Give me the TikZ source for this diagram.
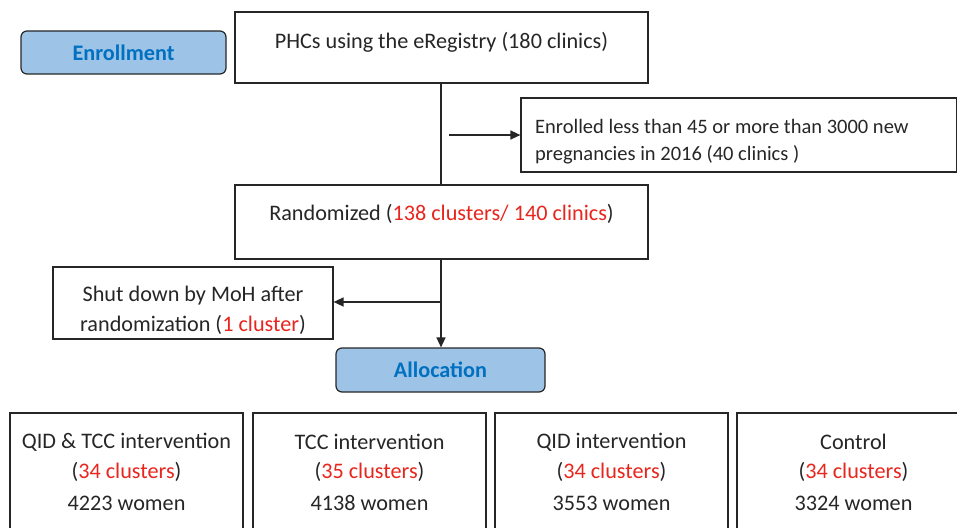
\documentclass[tikz,border=0pt]{standalone}
\usepackage{fontspec}
\setmainfont{Carlito}
\usetikzlibrary{arrows.meta}
\definecolor{stageblue}{HTML}{9DC3E6}
\definecolor{stagetext}{HTML}{0070C0}
\definecolor{linegray}{HTML}{262626}
\definecolor{hired}{HTML}{E8261E}
\newcommand{\hl}[1]{\textcolor{hired}{#1}}
\tikzset{
  box/.style={draw=linegray, line width=1.2pt, fill=white, inner sep=0pt},
  stage/.style={draw=linegray, line width=1.2pt, fill=stageblue, rounded corners=6pt,
    inner sep=0pt, text=stagetext, font=\fontsize{22.2}{26}\selectfont\bfseries},
  txt/.style={font=\fontsize{22.2}{26}\selectfont, text=linegray, inner sep=0pt},
  smalltxt/.style={txt, font=\fontsize{20.5}{24}\selectfont},
  flow/.style={draw=linegray, line width=1.5pt},
  arr/.style={flow, -{Triangle[length=10pt,width=9pt]}}
}
\begin{document}
\begin{tikzpicture}[x=1pt, y=-1pt]
\useasboundingbox (0,0) rectangle (957,527);
\clip (0,0) rectangle (957,527);
% stage labels
\node[stage, minimum width=205pt, minimum height=43pt] (enrol) at (123.5,52.5) {Enrollment};
\node[stage, minimum width=209pt, minimum height=44pt] (alloc) at (440.5,370) {Allocation};
% flow boxes
\node[box, minimum width=413pt, minimum height=71pt] (phc) at (441.5,47.5) {};
\node[txt] (phct) at (441.5,42) {PHCs using the eRegistry (180 clinics)};
\node[box, minimum width=436pt, minimum height=74pt] (excl) at (739,135) {};
\node[smalltxt, anchor=west] (exclt1) at (535,126) {Enrolled less than 45 or more than 3000 new};
\node[smalltxt, anchor=west] (exclt2) at (535,155) {pregnancies in 2016 (40 clinics )};
\node[box, minimum width=413pt, minimum height=74pt] (rand) at (441.5,222) {};
\node[txt] (randt) at (441.5,214) {Randomized (\hl{138 clusters/ 140 clinics})};
\node[box, minimum width=280pt, minimum height=72pt] (shut) at (193,303) {};
\node[txt] (shutt1) at (193,296) {Shut down by MoH after};
\node[txt] (shutt2) at (193,325) {randomization (\hl{1 cluster})};
% arms
\foreach \n/\cx/\arm/\cl/\w in {a1/126.5/QID \& TCC intervention/34/4223,
                                a2/369.5/TCC intervention/35/4138,
                                a3/611.5/QID intervention/34/3553,
                                a4/853.5/Control/34/3324}{
  \node[box, minimum width=233pt, minimum height=130pt] (\n) at (\cx,478) {};
  \node[txt] (\n t1) at (\cx,442) {\arm};
  \node[txt] (\n t2) at (\cx,472) {(\hl{\cl\ clusters})};
  \node[txt] (\n t3) at (\cx,503) {\w\ women};
}
% connectors
\coordinate (exstart) at (449,135);
\coordinate (shutjoin) at (441,302);
\draw[flow] (phc.south -| shutjoin) -- (rand.north -| shutjoin);
\draw[arr] (exstart) -- (excl.west |- exstart);
\draw[arr] (rand.south -| shutjoin) -- (alloc.north -| shutjoin);
\draw[arr] (shutjoin) -- (shut.east |- shutjoin);
\end{tikzpicture}
\end{document}
